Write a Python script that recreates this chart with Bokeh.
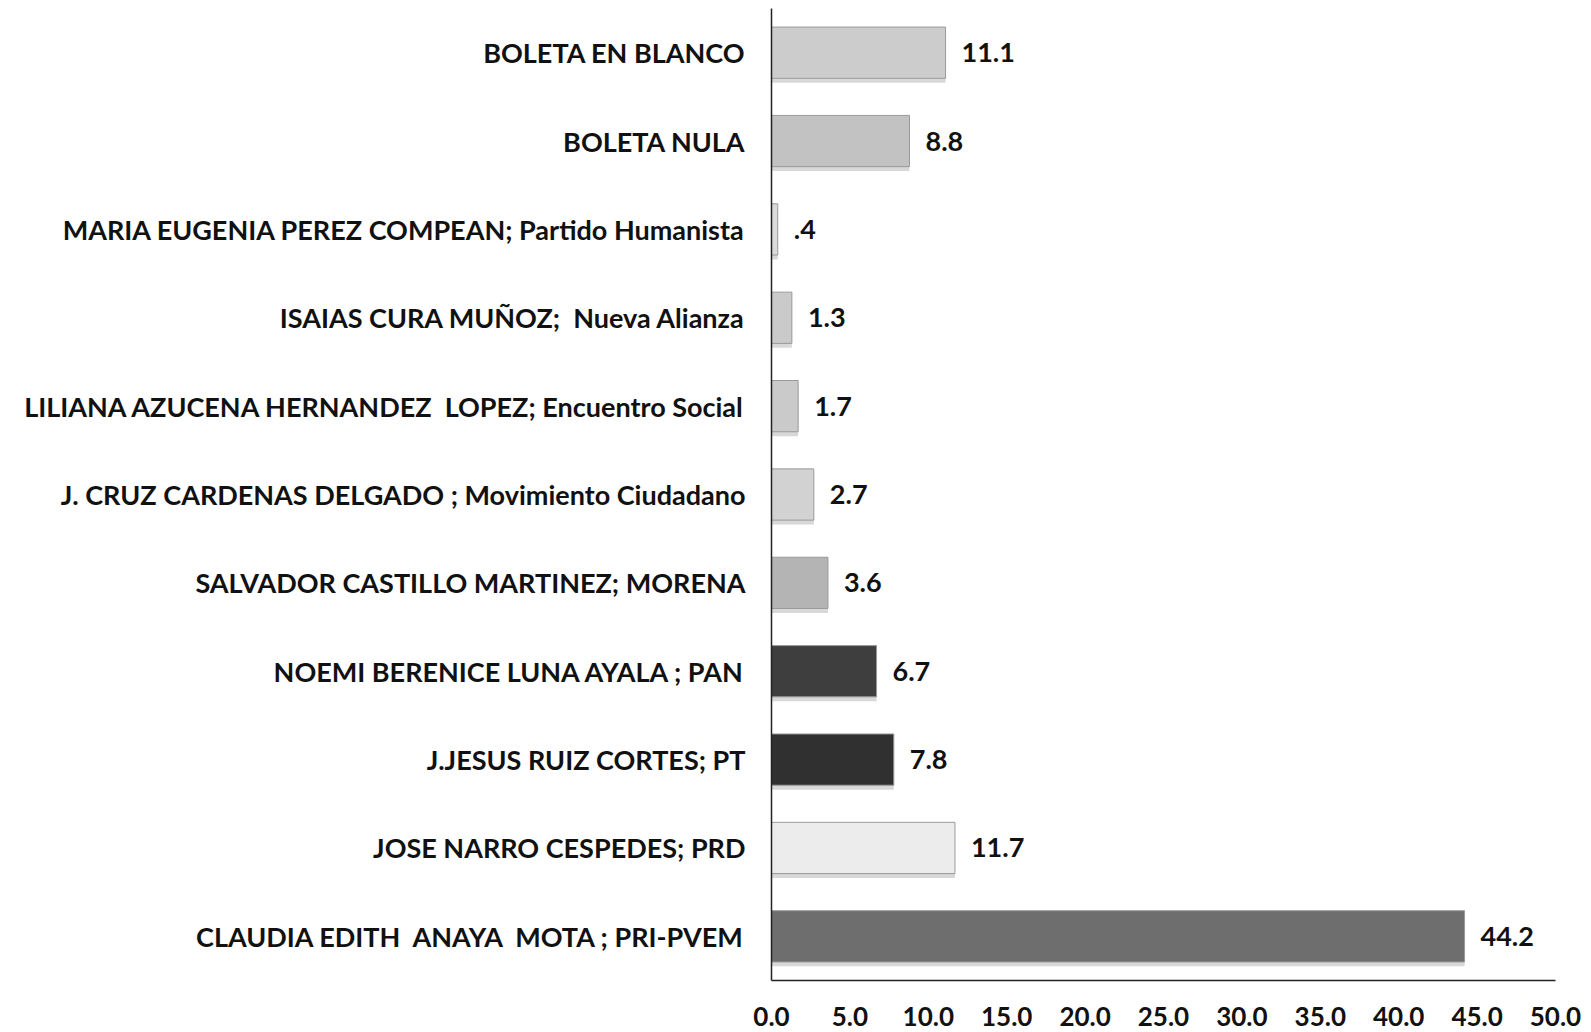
from bokeh.plotting import figure
from bokeh.models import ColumnDataSource, FactorRange, FixedTicker, NumeralTickFormatter, LabelSet
from bokeh.transform import dodge
from bokeh.core.properties import value
from bokeh.embed import file_html
from bokeh.resources import INLINE

NB = "\u00a0"
# bottom to top
categories = [
    "CLAUDIA EDITH " + NB + "ANAYA " + NB + "MOTA ; PRI-PVEM",
    "JOSE NARRO CESPEDES; PRD",
    "J.JESUS RUIZ CORTES; PT",
    "NOEMI BERENICE LUNA AYALA ; PAN",
    "SALVADOR CASTILLO MARTINEZ; MORENA",
    "J. CRUZ CARDENAS DELGADO ; Movimiento Ciudadano",
    "LILIANA AZUCENA HERNANDEZ " + NB + "LOPEZ; Encuentro Social",
    "ISAIAS CURA MUÑOZ; " + NB + "Nueva Alianza",
    "MARIA EUGENIA PEREZ COMPEAN; Partido Humanista",
    "BOLETA NULA",
    "BOLETA EN BLANCO",
]
values = [44.2, 11.7, 7.8, 6.7, 3.6, 2.7, 1.7, 1.3, 0.4, 8.8, 11.1]
value_labels = ["44.2", "11.7", "7.8", "6.7", "3.6", "2.7", "1.7", "1.3", ".4", "8.8", "11.1"]
bar_colors = ["#6e6e6e", "#ececec", "#303030", "#3e3e3e", "#b4b4b4", "#d2d2d2",
              "#cacaca", "#cacaca", "#dadada", "#c2c2c2", "#cccccc"]
x_ticks = [0, 5, 10, 15, 20, 25, 30, 35, 40, 45, 50]

FONT = "Lato"

src = ColumnDataSource(dict(cat=categories, val=values, lab=value_labels, color=bar_colors))

p = figure(y_range=FactorRange(factors=categories, range_padding=0),
           x_range=(0, 50), width=1585, height=1030,
           output_backend="svg", toolbar_location=None,
           min_border_left=771, min_border_right=30, min_border_top=8, min_border_bottom=50)

# shadow
p.hbar(y=dodge("cat", -0.05, range=p.y_range), right="val", left=0, height=0.58,
       source=src, fill_color="#d8d8d8", line_color=None)
p.hbar(y="cat", right="val", left=0, height=0.58, source=src,
       fill_color="color", line_color="#9a9a9a", line_width=1)

labels = LabelSet(x="val", y="cat", text="lab", source=src, x_offset=16, y_offset=0,
                  text_font=value(FONT), text_font_style="bold", text_font_size="27px",
                  text_baseline="middle", text_align="left", text_color="#111111")
p.add_layout(labels)

p.xgrid.visible = False
p.ygrid.visible = False
p.outline_line_color = None

p.xaxis.ticker = FixedTicker(ticks=x_ticks)
p.xaxis.formatter = NumeralTickFormatter(format="0.0")
p.xaxis.major_tick_line_color = None
p.xaxis.minor_tick_line_color = None
p.xaxis.major_tick_out = 0
p.xaxis.minor_tick_out = 0
p.xaxis.major_label_standoff = 26
p.xaxis.major_label_text_font = FONT
p.xaxis.major_label_text_font_style = "bold"
p.xaxis.major_label_text_font_size = "26px"
p.xaxis.major_label_text_color = "#111111"
p.xaxis.axis_line_color = "#222222"
p.xaxis.axis_line_width = 1.5

p.yaxis.major_tick_line_color = None
p.yaxis.minor_tick_line_color = None
p.yaxis.major_tick_out = 0
p.yaxis.minor_tick_out = 0
p.yaxis.major_label_standoff = 26
p.yaxis.major_label_text_font = FONT
p.yaxis.major_label_text_font_style = "bold"
p.yaxis.major_label_text_font_size = "27px"
p.yaxis.major_label_text_color = "#111111"
p.yaxis.axis_line_color = "#222222"
p.yaxis.axis_line_width = 1.5

open("out.html", "w").write(file_html(p, INLINE))
